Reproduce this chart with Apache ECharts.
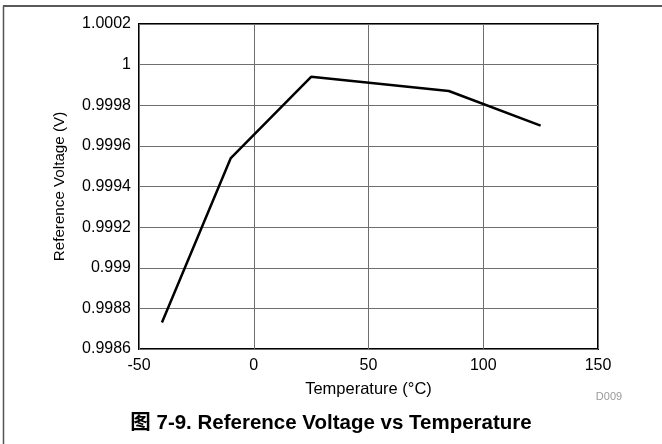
<!DOCTYPE html>
<html>
<head>
<meta charset="utf-8">
<script src="https://cdn.jsdelivr.net/npm/echarts@6/dist/echarts.min.js"></script>
<style>
  html, body { margin: 0; padding: 0; background: #fff; }
  #chart { width: 662px; height: 444px; }
</style>
</head>
<body>
<div id="chart"></div>
<script>
// Reference voltage measured across temperature
const temperatures = [-40, -10, 25, 85, 125];
const voltages = [0.99873, 0.99954, 0.99994, 0.99987, 0.99970];

const xTicks = { min: -50, max: 150, interval: 50 };
const yTicks = { min: 0.9986, max: 1.0002, interval: 0.0002 };

const FONT = 'Liberation Sans, Arial, Helvetica, sans-serif';

const chart = echarts.init(document.getElementById('chart'));
chart.setOption({
  animation: false,
  backgroundColor: '#fff',
  grid: {
    left: 139, top: 24, right: 64, bottom: 95,
    show: true, borderColor: '#000', borderWidth: 2
  },
  xAxis: {
    type: 'value',
    min: xTicks.min, max: xTicks.max, interval: xTicks.interval,
    name: 'Temperature (°C)',
    nameLocation: 'middle', nameGap: 32,
    nameTextStyle: { fontFamily: FONT, fontSize: 16.5, color: '#000' },
    axisLine: { show: false },
    axisTick: { show: false },
    axisLabel: { fontFamily: FONT, fontSize: 16, color: '#000', margin: 9 },
    splitLine: { show: true, lineStyle: { color: '#6e6e6e', width: 1 } }
  },
  yAxis: {
    type: 'value',
    min: yTicks.min, max: yTicks.max, interval: yTicks.interval,
    name: 'Reference Voltage (V)',
    nameLocation: 'middle', nameGap: 72,
    nameTextStyle: { fontFamily: FONT, fontSize: 15.2, color: '#000' },
    axisLine: { show: false },
    axisTick: { show: false },
    axisLabel: {
      fontFamily: FONT, fontSize: 16, color: '#000', margin: 8,
      formatter: v => String(parseFloat(v.toFixed(4)))
    },
    splitLine: { show: true, lineStyle: { color: '#6e6e6e', width: 1 } }
  },
  series: [{
    type: 'line',
    data: temperatures.map((t, i) => [t, voltages[i]]),
    symbol: 'none',
    lineStyle: { color: '#000', width: 2.5 },
    z: 5
  }],
  graphic: [
    { type: 'line', shape: { x1: 3, y1: 6, x2: 662, y2: 6 },
      style: { stroke: '#222', lineWidth: 1.5 } },
    { type: 'line', shape: { x1: 3.5, y1: 6, x2: 3.5, y2: 444 },
      style: { stroke: '#555', lineWidth: 1.5 } },
    { type: 'text', x: 609, y: 397,
      style: { text: 'D009', fontFamily: FONT, fontSize: 11, fill: '#9a9a9a',
               align: 'center', verticalAlign: 'middle' } },
    { type: 'text', x: 331, y: 423,
      style: { text: '图 7-9. Reference Voltage vs Temperature',
               fontFamily: 'Liberation Sans, Noto Sans CJK SC, sans-serif',
               fontSize: 20.5, fontWeight: 'bold', fill: '#000',
               align: 'center', verticalAlign: 'middle' } }
  ]
});
</script>
</body>
</html>
